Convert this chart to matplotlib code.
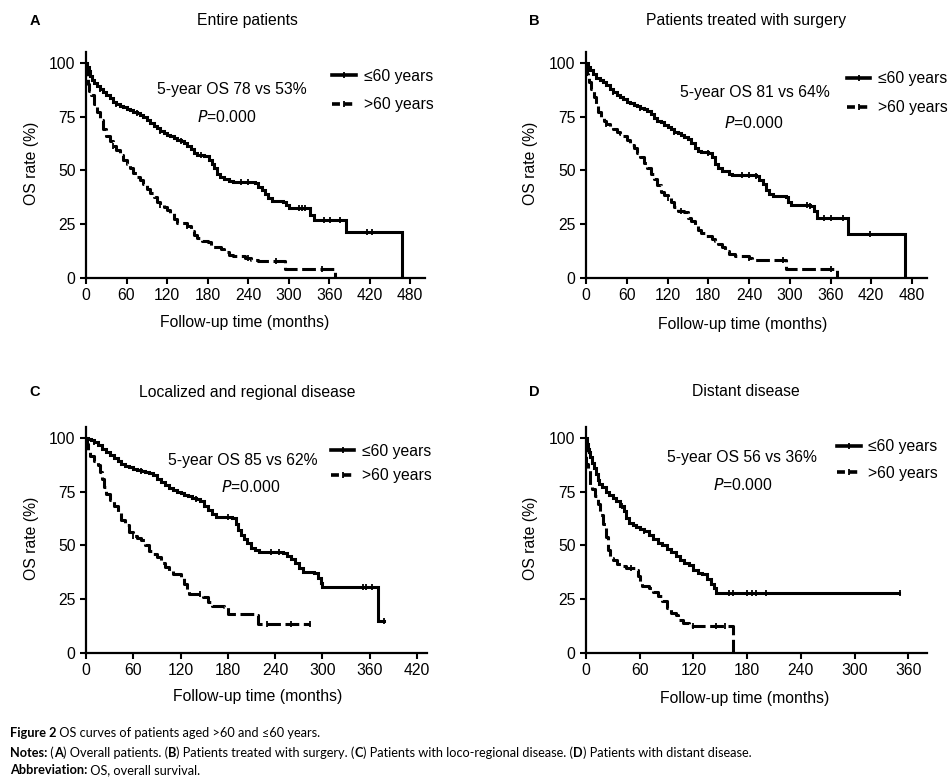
import numpy as np
import matplotlib
matplotlib.use('Agg')
import matplotlib.pyplot as plt
from matplotlib.lines import Line2D

plt.rcParams['font.family'] = ['Liberation Sans', 'DejaVu Sans']

# Kaplan-Meier steps: (time in months, OS %)
a_young_t = [0, 2, 4, 6, 9, 12, 16, 20, 25, 30, 35, 40, 45, 50, 55, 60, 65, 70, 75, 80, 85, 90, 95, 100, 105,
             110, 115, 120, 125, 130, 135, 140, 145, 150, 155, 160, 165, 175, 182, 186, 190, 194, 198, 205, 212,
             218, 250, 255, 260, 265, 270, 275, 292, 296, 300, 332, 338, 385, 468, 468]
a_young_s = [100, 98, 96, 94, 92, 90.5, 89, 88, 86.5, 85, 83.5, 82, 81, 80, 79.5, 78.5, 78, 77, 76.5, 75.5, 75,
             73.5, 72, 70.5, 69.5, 68.5, 67.5, 66.5, 66, 65, 64, 63.5, 62.5, 61.5, 60, 58, 57, 56.5, 55, 53, 51,
             48.5, 47, 46, 45, 44.5, 44, 42.5, 41, 39, 37, 36, 35.5, 34, 32.5, 29.5, 27, 21.5, 0, 0]
a_old_t = [0, 1, 3, 5, 8, 12, 16, 20, 25, 30, 35, 40, 45, 50, 55, 60, 65, 70, 75, 80, 85, 90, 95, 100, 105, 110,
           115, 120, 125, 130, 135, 150, 155, 160, 165, 172, 180, 185, 200, 205, 212, 218, 235, 245, 255, 295,
           368, 368]
a_old_s = [100, 94, 90, 87, 85, 81, 77, 73.5, 69, 66, 63.5, 61.5, 59.5, 57, 55, 53, 51, 49, 47, 45.5, 43.5, 41.5,
           39.5, 37.5, 35.5, 34, 33, 31.5, 30, 27.5, 25.5, 24, 22, 20, 18.5, 17, 16.5, 14.5, 13.5, 12, 10.5, 10,
           9.5, 8.5, 7.8, 4, 0, 0]

b_young_t = [0, 3, 6, 10, 15, 20, 25, 30, 35, 40, 45, 50, 55, 60, 65, 70, 75, 80, 85, 90, 95, 100, 105, 110, 115,
             120, 125, 130, 135, 140, 145, 150, 155, 160, 165, 170, 180, 185, 190, 195, 200, 210, 215, 250, 255,
             260, 265, 270, 275, 295, 298, 302, 330, 335, 340, 386, 469, 469]
b_young_s = [100, 98, 96.5, 95, 93, 92, 91, 89.5, 88, 86.5, 85, 84, 83, 82, 81.5, 80.5, 80, 79, 78.5, 77.5, 76,
             74.5, 73, 72.5, 71, 70, 69, 68, 67.5, 66.5, 65.5, 64.5, 62.5, 60.5, 59, 58.5, 58, 56, 53, 51, 49.5,
             48.5, 48, 47.5, 45.5, 43.5, 41, 39, 38, 37.5, 35.5, 34, 33.5, 31, 28, 20.5, 0, 0]
b_old_t = [0, 1, 3, 5, 8, 12, 15, 18, 22, 26, 30, 35, 40, 45, 50, 55, 60, 65, 70, 75, 80, 85, 90, 95, 100, 105,
           110, 115, 120, 125, 130, 135, 145, 150, 155, 160, 165, 170, 175, 185, 190, 195, 200, 205, 210, 220,
           240, 245, 295, 370, 370]
b_old_s = [100, 95, 93, 91, 88, 84, 80, 77, 75, 73, 71.5, 70, 69, 68, 67, 66, 64, 62, 60.5, 58, 56, 53.5, 51,
           48.5, 46, 43, 40, 38.5, 37, 35.5, 33, 31, 30.5, 28, 26.5, 24.5, 22.5, 21, 19.5, 18, 17, 16, 14.5,
           12.5, 11, 10, 9.5, 8.5, 4.3, 0, 0]

c_young_t = [0, 3, 6, 10, 15, 20, 25, 30, 35, 40, 45, 50, 55, 60, 65, 70, 75, 80, 85, 90, 95, 100, 105, 110, 115,
             120, 125, 130, 135, 140, 145, 150, 155, 160, 165, 185, 190, 193, 197, 200, 205, 210, 215, 220, 250,
             255, 260, 265, 270, 275, 290, 295, 298, 300, 371, 378]
c_young_s = [100, 99.5, 99, 98, 96.5, 95, 93.5, 92, 90.5, 89, 88, 87, 86.5, 85.5, 85, 84.5, 84, 83.5, 82.5, 81,
             79.5, 78, 76.5, 75.5, 75, 74.5, 73.5, 73, 72, 71.5, 70.5, 68.5, 66.5, 64.5, 63, 62.5, 60, 57, 55, 53,
             51, 49, 48, 47, 46.5, 45, 43.5, 42, 39.5, 37.5, 37, 35, 32.5, 30.5, 15, 15]
c_old_t = [0, 1, 3, 5, 10, 15, 18, 20, 23, 26, 30, 35, 40, 45, 50, 55, 60, 65, 70, 75, 80, 85, 90, 95, 100, 105,
           110, 120, 125, 128, 131, 148, 155, 160, 175, 180, 215, 218, 285]
c_old_s = [100, 97, 94, 91.5, 89, 87.5, 84, 81, 77, 74, 71, 68.5, 65.5, 62, 59.5, 56, 54.5, 53.5, 52.5, 50, 47.5,
           46, 44.5, 42, 40, 38, 36.5, 35.5, 32, 29, 27.5, 26, 23.5, 22, 21.5, 18, 17.5, 13.5, 13.5]

d_young_t = [0, 1, 2, 3, 5, 7, 9, 11, 13, 15, 18, 22, 26, 30, 34, 38, 42, 45, 48, 52, 56, 60, 65, 70, 75, 80, 85,
             90, 95, 100, 105, 110, 115, 120, 125, 130, 135, 140, 143, 145, 350]
d_young_s = [100, 97, 95, 93.5, 91, 88.5, 86, 83, 80.5, 78.5, 77, 75, 73.5, 72, 70.5, 68.5, 66, 62.5, 60.5, 59.5,
             58.5, 57.5, 56.5, 55, 53, 51, 50, 48.5, 47, 45, 43, 42, 41, 38.5, 37, 36.5, 34.5, 32, 30, 28, 28]
d_old_t = [0, 0.5, 2, 4, 7, 10, 13, 16, 19, 22, 25, 27, 30, 35, 40, 45, 55, 58, 60, 63, 70, 75, 80, 85, 90, 95,
           100, 103, 108, 115, 164, 164]
d_old_s = [100, 88, 85, 78, 76, 73, 69, 64, 60, 54, 48, 44, 43, 41.5, 40.5, 39.5, 38.5, 36, 33, 31, 30, 28.5,
           26.5, 24, 21, 18.5, 17.5, 15.5, 14, 12.5, 12.5, 0]

# censored observations (months)
a_young_cens = [20, 45, 75, 110, 140, 170, 230, 240, 315, 320, 325, 352, 362, 376, 416, 423]
a_old_cens = [40, 110, 150, 240, 282, 350]
b_young_cens = [40, 80, 130, 180, 230, 240, 250, 325, 330, 351, 361, 378, 418]
b_old_cens = [30, 120, 140, 240, 290, 360]
c_young_cens = [10, 70, 140, 180, 235, 245, 352, 356, 363, 378]
c_old_cens = [60, 145, 230, 260, 285]
d_young_cens = [40, 65, 160, 164, 180, 185, 190, 201, 351]
d_old_cens = [50, 120, 145, 155]

titles = ['Entire patients', 'Patients treated with surgery', 'Localized and regional disease', 'Distant disease']
letters = ['A', 'B', 'C', 'D']
os_text = ['5-year OS 78 vs 53%', '5-year OS 81 vs 64%', '5-year OS 85 vs 62%', '5-year OS 56 vs 36%']
x_ticks = [list(range(0, 481, 60)), list(range(0, 481, 60)), list(range(0, 421, 60)), list(range(0, 361, 60))]
x_max = [502, 502, 433, 381]

W, H = 953, 778
fig = plt.figure(figsize=(W / 100, H / 100), dpi=100)


def px_axes(l, t, r, b):
    return [l / W, 1 - b / H, (r - l) / W, (b - t) / H]


def px(x, y):
    return x / W, 1 - y / H


boxes = [(86, 52, 425, 278), (586, 52, 927, 278), (86, 427, 427, 653), (586, 427, 927, 653)]
curves = [(a_young_t, a_young_s, a_old_t, a_old_s, a_young_cens, a_old_cens),
          (b_young_t, b_young_s, b_old_t, b_old_s, b_young_cens, b_old_cens),
          (c_young_t, c_young_s, c_old_t, c_old_s, c_young_cens, c_old_cens),
          (d_young_t, d_young_s, d_old_t, d_old_s, d_young_cens, d_old_cens)]
# text positions in axes fraction
os_pos = [(0.431, 0.836), (0.496, 0.823), (0.46, 0.85), (0.457, 0.867)]
p_pos = [(0.416, 0.712), (0.493, 0.686), (0.484, 0.735), (0.46, 0.743)]
leg_pos = [(0.726, 0.925), (0.765, 0.915), (0.718, 0.925), (0.736, 0.945)]
leg_space = [0.85, 0.88, 0.58, 0.72]
title_y = [21, 21, 392, 392]
letter_x = [35, 534, 35, 534]
title_x = [247, 746, 247, 746]
xlab_pos = [(245, 323), (743, 324), (258, 697), (745, 699)]
ylab_pos = [(32, 163), (531, 163), (32, 538), (531, 538)]

dash = (0, (4.5, 1.5))
FS = 11.3

for i in range(4):
    ax = fig.add_axes(px_axes(*boxes[i]))
    yt, ys, ot, os_, yc, oc = curves[i]
    ax.step(yt, ys, where='post', color='black', lw=2.2, solid_joinstyle='miter')
    ax.step(ot, os_, where='post', color='black', lw=2.2, linestyle=dash)
    # censor ticks
    for tt, ss, cc in [(yt, ys, yc), (ot, os_, oc)]:
        idx = np.searchsorted(tt, cc, side='right') - 1
        cy = np.array(ss)[idx]
        ax.plot(cc, cy, linestyle='none', marker='|', color='black', markersize=5, markeredgewidth=1.3)

    ax.set_xlim(0, x_max[i])
    ax.set_ylim(0, 105)
    ax.set_xticks(x_ticks[i])
    ax.set_yticks([0, 25, 50, 75, 100])
    ax.spines['top'].set_visible(False)
    ax.spines['right'].set_visible(False)
    ax.spines['left'].set_linewidth(1.6)
    ax.spines['bottom'].set_linewidth(1.6)
    ax.tick_params(direction='out', length=4.5, width=1.5, labelsize=FS, pad=3)

    ax.text(*os_pos[i], os_text[i], transform=ax.transAxes, ha='center', va='center', fontsize=FS)
    ax.text(*p_pos[i], '$\\it{P}$=0.000', transform=ax.transAxes, ha='center', va='center', fontsize=FS)

    h1 = Line2D([], [], color='black', lw=2.6, marker='|', markersize=5, markeredgewidth=1.3)
    h2 = Line2D([], [], color='black', lw=2.6, linestyle=(0, (2.2, 1.2)), marker='|', markersize=5,
                markeredgewidth=1.3)
    ax.legend([h1, h2], ['≤60 years', '>60 years'], loc='upper left', bbox_to_anchor=leg_pos[i],
              frameon=False, borderpad=0, borderaxespad=0, handlelength=1.5, handletextpad=0.5,
              labelspacing=leg_space[i], fontsize=FS, numpoints=1)

    fig.text(*px(letter_x[i], title_y[i]), letters[i], ha='center', va='center', fontsize=10.5, fontweight='bold')
    fig.text(*px(title_x[i], title_y[i]), titles[i], ha='center', va='center', fontsize=FS)
    fig.text(*px(*xlab_pos[i]), 'Follow-up time (months)', ha='center', va='center', fontsize=FS)
    fig.text(*px(*ylab_pos[i]), 'OS rate (%)', ha='center', va='center', rotation=90, fontsize=FS)

# caption, drawn run by run so bold parts can sit inside a line
cap_font = ['Lato', 'DejaVu Sans']
renderer = fig.canvas.get_renderer()


def runs(x, y, parts, size=9.15):
    for txt, bold in parts:
        t = fig.text(*px(x, y), txt, fontsize=size, family=cap_font, va='center', ha='left',
                     fontweight='bold' if bold else 'normal')
        x += t.get_window_extent(renderer).width


runs(10, 733, [('Figure 2', True), (' OS curves of patients aged >60 and ≤60 years.', False)])
runs(10, 753, [('Notes:', True), (' (', False), ('A', True), (') Overall patients. (', False), ('B', True),
               (') Patients treated with surgery. (', False), ('C', True),
               (') Patients with loco-regional disease. (', False), ('D', True),
               (') Patients with distant disease.', False)])
runs(10, 770, [('Abbreviation:', True), (' OS, overall survival.', False)])

fig.savefig('out.png', dpi=100)
